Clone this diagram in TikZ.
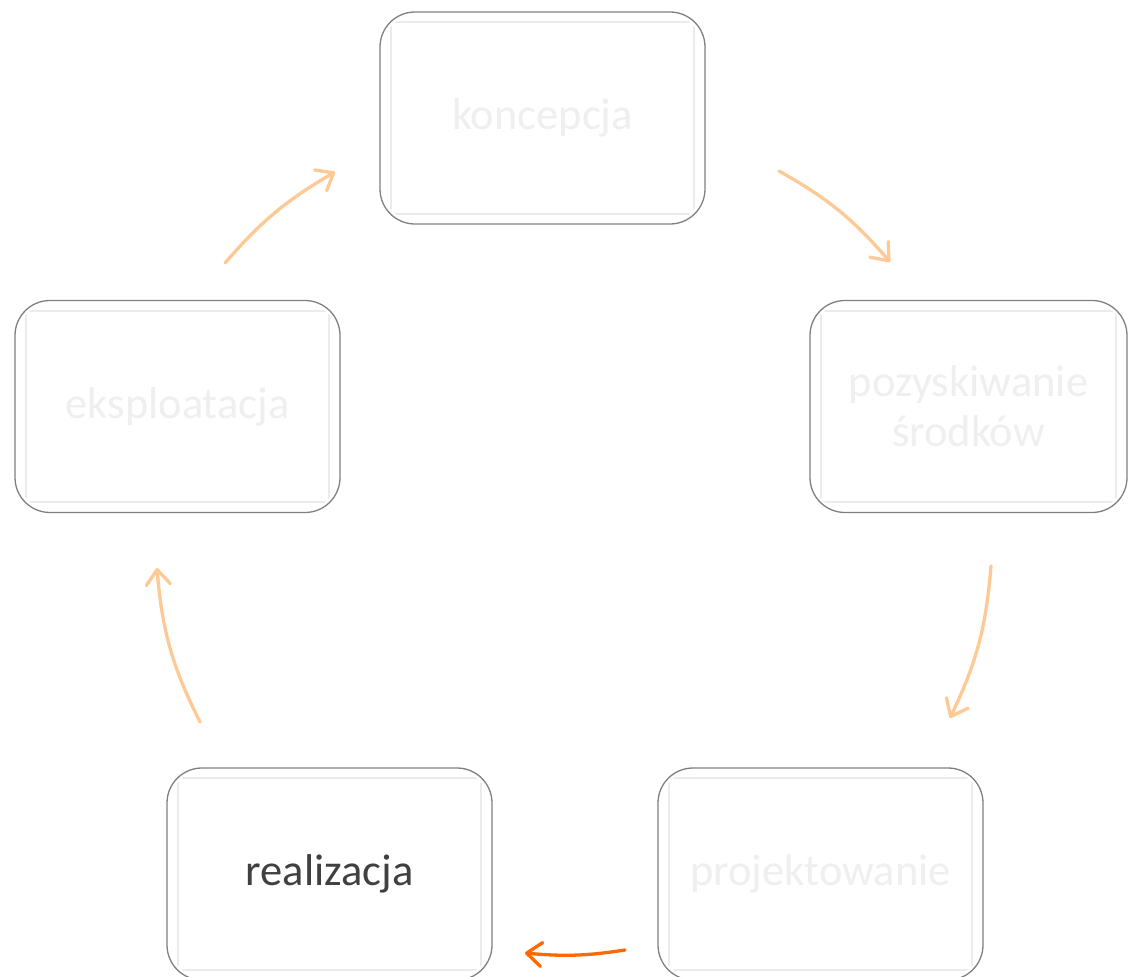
\documentclass[tikz,border=0pt]{standalone}
\usepackage{fontspec}
\setmainfont{Carlito}
\usetikzlibrary{arrows.meta}
\definecolor{boxline}{HTML}{808080}
\definecolor{innerline}{HTML}{EBEBEB}
\definecolor{fadetext}{HTML}{EFEFEF}
\definecolor{darktext}{HTML}{404040}
\definecolor{lightorange}{HTML}{FFC995}
\definecolor{darkorange}{HTML}{FF6A00}
\tikzset{
  stage/.style={draw=boxline, line width=1.3pt, rounded corners=35pt, fill=white,
    minimum width=325pt, minimum height=212pt, inner sep=0pt, align=center,
    text=fadetext, font=\fontsize{44.5}{50}\selectfont},
  innerbox/.style={draw=innerline, line width=2pt},
  cyc/.style={draw=lightorange, line width=3.3pt, line cap=round,
    -{Straight Barb[length=15pt, width=24pt, line width=3.3pt, round]}},
  cycactive/.style={cyc, draw=darkorange}
}
\begin{document}
\begin{tikzpicture}[x=1pt, y=-1pt]
\useasboundingbox (0,0) rectangle (1128,977);
\clip (0,0) rectangle (1128,977);
\fill[white] (0,0) rectangle (1128,977);

\node[stage] (kon) at (542.5,118) {koncepcja};
\node[stage, minimum width=317pt] (poz) at (968.5,406.5) {pozyskiwanie\\środków};
\node[stage] (eks) at (177.5,406.5) {eksploatacja};
\node[stage, text=darktext] (rea) at (329.5,874) {realizacja};
\node[stage] (pro) at (820.5,874) {projektowanie};

\foreach \n in {kon,poz,eks,rea,pro}{
  \begin{scope}
    \clip[rounded corners=35pt] ([shift={(3,3)}]\n.north west) rectangle ([shift={(-3,-3)}]\n.south east);
    \draw[innerbox] ([shift={(12,11)}]\n.north west) rectangle ([shift={(-12,-11)}]\n.south east);
  \end{scope}
}

\coordinate (a1s) at (779,171);  \coordinate (a1e) at (890,262);
\coordinate (a2s) at (991,566);  \coordinate (a2e) at (950,718);
\coordinate (a3s) at (625,950);  \coordinate (a3e) at (525,953);
\coordinate (a4s) at (200,722);  \coordinate (a4e) at (157,568);
\coordinate (a5s) at (225,263);  \coordinate (a5e) at (335,172);

\draw[cyc] (a1s) to[bend left=10] (a1e);
\draw[cyc] (a2s) to[bend left=10.5] (a2e);
\draw[cycactive] (a3s) to[bend left=7] (a3e);
\draw[cyc] (a4s) to[bend left=11] (a4e);
\draw[cyc] (a5s) to[bend left=9.5] (a5e);
\end{tikzpicture}
\end{document}
